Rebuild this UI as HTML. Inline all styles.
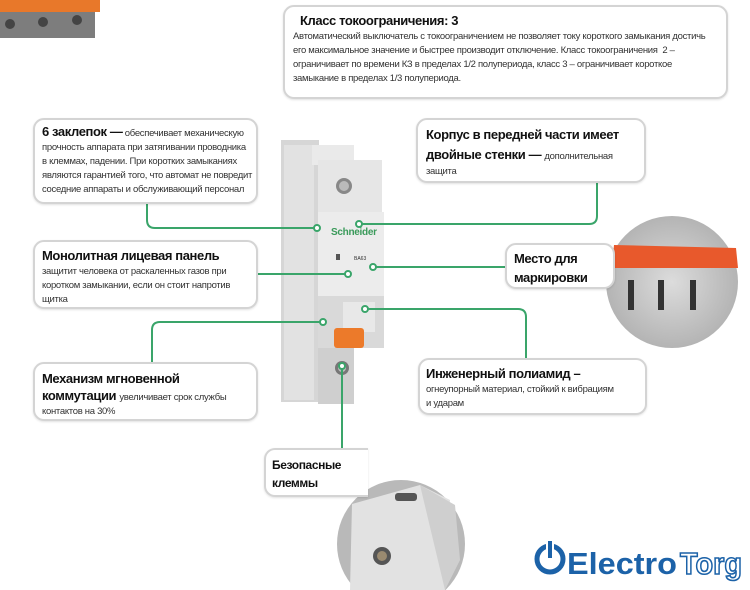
<!DOCTYPE html>
<html><head><meta charset="utf-8"><style>
body{margin:0;width:750px;height:590px;background:#fff;position:relative;overflow:hidden;font-family:"Liberation Sans Narrow","Liberation Sans",Arial,sans-serif;color:#222}
.b{position:absolute;border:2.5px solid #d4d4d4;border-radius:11px;background:#fff;box-sizing:border-box;box-shadow:0 1px 2px rgba(0,0,0,.12)}
.t{font-weight:bold;font-size:13px;color:#111;letter-spacing:-0.4px;white-space:nowrap}
.s{font-size:9.5px;line-height:14px;color:#333;letter-spacing:-0.3px;white-space:nowrap;font-weight:normal}
svg{position:absolute;left:0;top:0}
</style></head><body>
<svg width="750" height="590">
<defs><radialGradient id="g1" cx="50%" cy="50%" r="50%"><stop offset="0" stop-color="#dcdcdc"/><stop offset="1" stop-color="#b4b4b4"/></radialGradient></defs>
<rect x="0" y="0" width="100" height="12" fill="#e8782a"/>
<rect x="0" y="12" width="95" height="26" fill="#7d7d7d"/>
<circle cx="10" cy="24" r="5" fill="#444"/><circle cx="43" cy="22" r="5" fill="#444"/><circle cx="77" cy="20" r="5" fill="#444"/>
<rect x="281" y="140" width="38" height="262" fill="#d6d6d6"/>
<rect x="284" y="145" width="30" height="255" fill="#e2e2e2"/>
<rect x="312" y="145" width="42" height="20" fill="#eaeaea"/>
<rect x="318" y="160" width="64" height="52" fill="#e6e6e6"/>
<circle cx="344" cy="186" r="8" fill="#888"/><circle cx="344" cy="186" r="5" fill="#bbb"/>
<rect x="318" y="212" width="66" height="84" fill="#ececec"/>
<text x="331" y="235" font-size="10" font-weight="bold" fill="#3a9a5a" font-family="Liberation Sans" textLength="46">Schneider</text>
<text x="354" y="260" font-size="5" fill="#333" font-family="Liberation Sans">BA63</text>
<rect x="336" y="254" width="4" height="6" fill="#555"/>
<rect x="318" y="296" width="66" height="52" fill="#d9d9d9"/>
<rect x="343" y="302" width="32" height="30" fill="#e8e8e8"/>
<rect x="334" y="328" width="30" height="20" rx="3" fill="#ec7a2a"/>
<rect x="318" y="348" width="36" height="56" fill="#cfcfcf"/>
<circle cx="342" cy="368" r="7" fill="#777"/><circle cx="342" cy="368" r="4" fill="#bbb"/>
<circle cx="672" cy="282" r="66" fill="url(#g1)"/>
<path d="M612 268 L738 268 L736 248 L614 245Z" fill="#e8592c"/>
<rect x="628" y="280" width="6" height="30" fill="#333"/><rect x="658" y="280" width="6" height="30" fill="#333"/><rect x="690" y="280" width="6" height="30" fill="#333"/>
<circle cx="401" cy="544" r="64" fill="#b9b9b9"/>
<path d="M352 504 L420 485 L450 500 L445 590 L350 590Z" fill="#e2e2e2"/>
<path d="M420 485 L455 505 L460 560 L445 590Z" fill="#cfcfcf"/>
<circle cx="382" cy="556" r="9" fill="#555"/><circle cx="382" cy="556" r="5" fill="#9a8a70"/>
<rect x="395" y="493" width="22" height="8" rx="3" fill="#555"/>
<g stroke="#3aa56a" stroke-width="2" fill="none">
<path d="M147 203 V220 Q147 228 155 228 H317"/>
<path d="M597 182 V216 Q597 224 589 224 H359"/>
<path d="M257 274 H348"/>
<path d="M373 267 H505"/>
<path d="M365 309 H518 Q526 309 526 317 V358"/>
<path d="M323 322 H160 Q152 322 152 330 V362"/>
<path d="M342 366 V448"/>
</g>
<g fill="#fff" stroke="#3aa56a" stroke-width="2">
<circle cx="317" cy="228" r="3"/><circle cx="359" cy="224" r="3"/><circle cx="348" cy="274" r="3"/><circle cx="373" cy="267" r="3"/><circle cx="365" cy="309" r="3"/><circle cx="323" cy="322" r="3"/><circle cx="342" cy="366" r="3"/>
</g>
<circle cx="550" cy="559" r="13" fill="none" stroke="#1c62a8" stroke-width="5"/>
<rect x="546" y="540" width="8" height="20" fill="#fff"/>
<rect x="548" y="541" width="4" height="17" fill="#1c62a8"/>
<text x="567" y="574" font-size="31" font-weight="bold" fill="#1c62a8" font-family="Liberation Sans" textLength="110" lengthAdjust="spacingAndGlyphs">Electro</text>
<text x="680" y="574" font-size="31" font-weight="bold" fill="#fff" stroke="#1c62a8" stroke-width="1.6" font-family="Liberation Sans" textLength="62" lengthAdjust="spacingAndGlyphs">Torg</text>
</svg>

<div class="b" style="left:283px;top:5px;width:445px;height:94px;padding:6px 8px">
<div class="t" style="margin-left:7px">Класс токоограничения: 3</div>
<div class="s" style="margin-top:2px">Автоматический выключатель с токоограничением не позволяет току короткого замыкания достичь<br>его максимальное значение и быстрее производит отключение. Класс токоограничения&nbsp; 2 –<br>ограничивает по времени КЗ в пределах 1/2 полупериода, класс 3 – ограничивает короткое<br>замыкание в пределах 1/3 полупериода.</div>
</div>

<div class="b" style="left:33px;top:118px;width:225px;height:86px;padding:5px 7px">
<div class="s"><span class="t">6 заклепок —</span> обеспечивает механическую<br>прочность аппарата при затягивании проводника<br>в клеммах, падении. При коротких замыканиях<br>являются гарантией того, что автомат не повредит<br>соседние аппараты и обслуживающий персонал</div>
</div>

<div class="b" style="left:33px;top:240px;width:225px;height:69px;padding:6px 7px">
<div class="t">Монолитная лицевая панель</div>
<div class="s" style="margin-top:2px">защитит человека от раскаленных газов при<br>коротком замыкании, если он стоит напротив<br>щитка</div>
</div>

<div class="b" style="left:33px;top:362px;width:225px;height:59px;padding:6px 7px">
<div class="t" style="line-height:17px">Механизм мгновенной<br>коммутации <span class="s">увеличивает срок службы</span></div>
<div class="s">контактов на 30%</div>
</div>

<div class="b" style="left:416px;top:118px;width:230px;height:65px;padding:5px 8px">
<div class="t" style="line-height:20px">Корпус в передней части имеет<br>двойные стенки — <span class="s">дополнительная</span></div>
<div class="s">защита</div>
</div>

<div class="b" style="left:505px;top:243px;width:110px;height:46px;padding:4px 7px">
<div class="t" style="line-height:19px">Место для<br>маркировки</div>
</div>

<div class="b" style="left:418px;top:358px;width:229px;height:57px;padding:6px 6px">
<div class="t">Инженерный полиамид –</div>
<div class="s" style="margin-top:2px">огнеупорный материал, стойкий к вибрациям<br>и ударам</div>
</div>

<div class="b" style="left:264px;top:448px;width:104px;height:49px;padding:6px 6px;border-right:none;border-radius:11px 0 0 11px">
<div class="t" style="line-height:18px;font-size:12px">Безопасные<br>клеммы</div>
</div>
</body></html>
